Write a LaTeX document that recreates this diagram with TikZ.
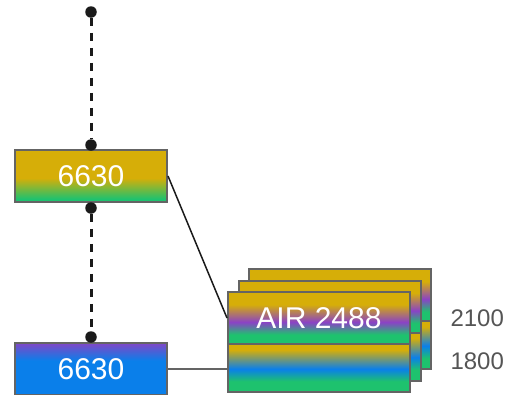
\documentclass[tikz,border=0pt]{standalone}
\usepackage{fontspec}
\setmainfont{Liberation Sans}
\definecolor{gd}{HTML}{D6AE08}
\definecolor{gr}{HTML}{1EC26E}
\definecolor{pu}{HTML}{8A42C6}
\definecolor{bl}{HTML}{0A7FEA}
\definecolor{puB}{HTML}{7A4AC8}
\definecolor{edgegray}{HTML}{646464}
\definecolor{lblgray}{HTML}{555555}
\definecolor{dotblack}{HTML}{1A1A1A}
% the central 25bp--75bp band of each shading spans the node's height
\pgfdeclareverticalshading{goldgreen}{100bp}{color(0bp)=(gr); color(28bp)=(gr); color(48bp)=(gd); color(100bp)=(gd)}
\pgfdeclareverticalshading{purpleblue}{100bp}{color(0bp)=(bl); color(58bp)=(bl); color(74bp)=(puB); color(100bp)=(puB)}
\pgfdeclareverticalshading{gpg}{100bp}{color(0bp)=(gr); color(34bp)=(gr); color(46bp)=(pu); color(63bp)=(gd); color(100bp)=(gd)}
\pgfdeclareverticalshading{gbg}{100bp}{color(0bp)=(gr); color(36bp)=(gr); color(49bp)=(bl); color(69bp)=(gd); color(100bp)=(gd)}
\tikzset{
  box/.style={draw=edgegray, line width=2pt, inner sep=0pt, minimum width=152pt, minimum height=52pt, text=white, font=\fontsize{30}{36}\selectfont},
  panel/.style={draw=edgegray, line width=2pt, inner sep=0pt, minimum width=182pt, text=white, font=\fontsize{30}{36}\selectfont},
  tophalf/.style={panel, minimum height=52pt, shading=gpg},
  bothalf/.style={panel, minimum height=48pt, shading=gbg},
  dotnode/.style={circle, fill=dotblack, inner sep=0pt, minimum size=11.5pt},
  dashlink/.style={line width=3pt, dash pattern=on 8pt off 7pt, dotblack},
  band/.style={text=lblgray, font=\fontsize{24}{28}\selectfont, anchor=west},
}
\begin{document}
\begin{tikzpicture}[x=1pt, y=-1pt]
\path[use as bounding box] (0,0) rectangle (508,394);
\clip (0,0) rectangle (508,394);
% stacked panels (back to front)
\node[tophalf] (p3t) at (340,295) {};
\node[bothalf] (p3b) at (340,345) {};
\node[tophalf] (p2t) at (329.5,306.5) {};
\node[bothalf] (p2b) at (329.5,356.5) {};
\node[tophalf] (p1t) at (319,318) {AIR 2488};
\node[bothalf] (p1b) at (319,368) {};
\node[band] (l2100) at (447,318) {2100};
\node[band] (l1800) at (447,361) {1800};
% left boxes
\node[box, shading=goldgreen] (b1) at (91,176) {\raisebox{-1pt}{6630}};
\node[box, shading=purpleblue] (b2) at (91,369) {\raisebox{-2pt}{6630}};
% dots
\node[dotnode] (d0) at (91,12) {};
\node[dotnode] (d1) at (91,145) {};
\node[dotnode] (d2) at (91,208) {};
\node[dotnode] (d3) at (91,337) {};
\draw[dashlink] (d0) -- (d1);
\draw[dashlink] (d2) -- (d3);
% connectors
\draw[line width=1.5pt, dotblack] (b1.east) -- (p1t.west);
\draw[line width=2pt, edgegray] (b2.east) -- (p1b.west |- b2.east);
\end{tikzpicture}
\end{document}
